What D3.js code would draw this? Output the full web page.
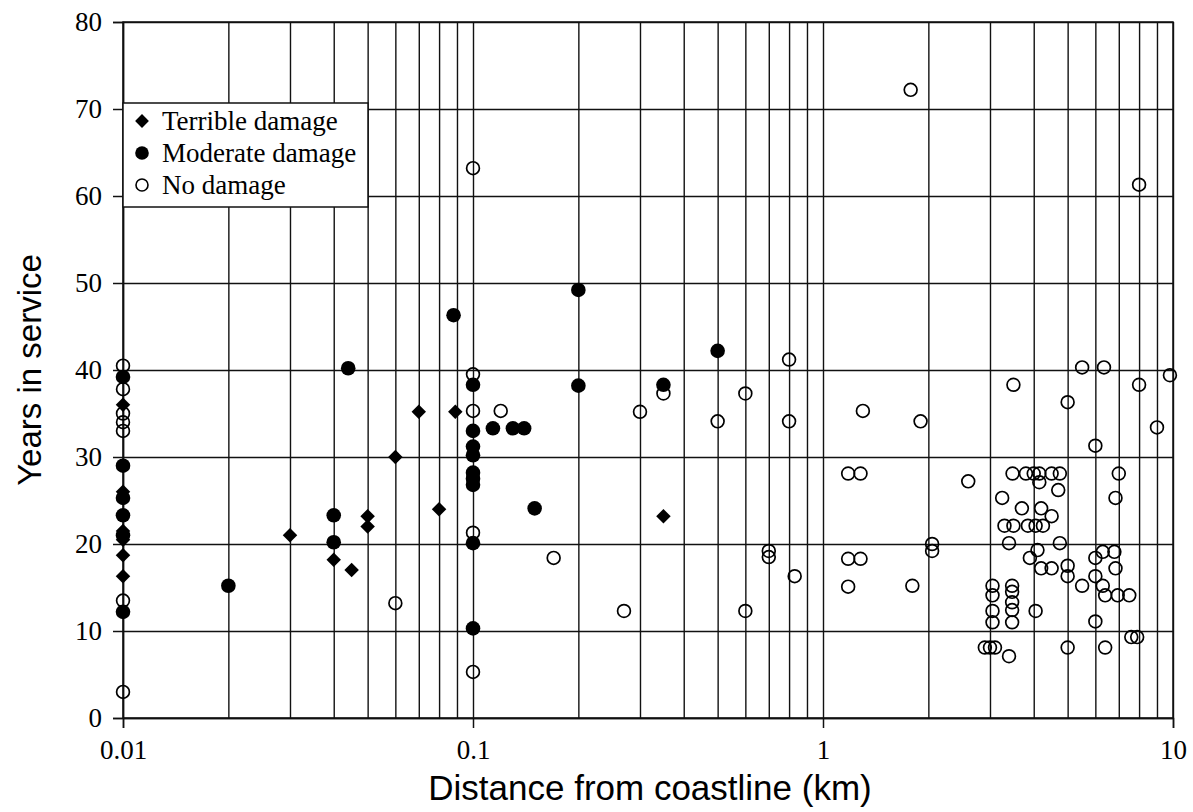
<!DOCTYPE html>
<html>
<head>
<meta charset="utf-8">
<script src="https://cdn.jsdelivr.net/npm/d3@7"></script>
<style>
  body { margin: 0; background: #fff; }
  svg text { fill: #000; }
</style>
</head>
<body>
<div id="chart"></div>
<script>
// --- data: [distance km, years in service]
const terribleDamage = [
  [0.01, 36], [0.01, 26], [0.01, 21.5], [0.01, 20.5], [0.01, 18.7], [0.01, 16.3],
  [0.03, 21], [0.04, 18.2], [0.045, 17], [0.05, 23.2], [0.05, 22], [0.06, 30],
  [0.07, 35.2], [0.08, 24], [0.089, 35.2], [0.35, 23.2]
];
const moderateDamage = [
  [0.01, 39.2], [0.01, 29], [0.01, 25.3], [0.01, 23.3], [0.01, 21], [0.01, 12.2],
  [0.02, 15.2], [0.04, 23.3], [0.04, 20.2], [0.044, 40.2], [0.088, 46.3],
  [0.1, 38.3], [0.1, 33], [0.1, 31.2], [0.1, 30.2], [0.1, 28.2], [0.1, 27.5], [0.1, 26.8],
  [0.1, 20.1], [0.1, 10.3],
  [0.114, 33.3], [0.13, 33.3], [0.14, 33.3], [0.15, 24.1],
  [0.2, 49.2], [0.2, 38.2], [0.35, 38.3], [0.5, 42.2]
];
const noDamage = [
  [0.01, 40.5], [0.01, 37.8], [0.01, 35], [0.01, 34], [0.01, 33], [0.01, 13.5], [0.01, 3],
  [0.06, 13.2], [0.1, 63.2], [0.1, 39.5], [0.1, 35.3], [0.1, 21.3], [0.1, 5.3],
  [0.12, 35.3], [0.17, 18.4], [0.27, 12.3], [0.3, 35.2], [0.35, 37.3],
  [0.5, 34.1], [0.6, 37.3], [0.6, 12.3], [0.7, 19.2], [0.7, 18.5],
  [0.8, 41.2], [0.8, 34.1], [0.83, 16.3],
  [1.18, 28.1], [1.28, 28.1], [1.18, 18.3], [1.28, 18.3], [1.18, 15.1], [1.3, 35.3],
  [1.78, 72.2], [1.8, 15.2], [1.9, 34.1], [2.05, 20], [2.05, 19.2], [2.6, 27.2],
  [2.9, 8.1], [3.0, 8.1], [3.1, 8.1],
  [3.05, 15.2], [3.05, 14.1], [3.05, 12.3], [3.05, 11],
  [3.47, 15.2], [3.47, 14.5], [3.47, 13.3], [3.47, 12.4], [3.47, 11],
  [3.4, 7.1], [3.25, 25.3], [3.3, 22.1], [3.5, 22.1], [3.4, 20.1], [3.5, 38.3], [3.48, 28.1],
  [3.8, 28.1], [4.0, 28.1], [4.15, 28.1], [4.5, 28.1], [4.75, 28.1],
  [4.15, 27.1], [4.7, 26.2], [3.7, 24.1], [4.2, 24.1], [4.5, 23.2],
  [3.85, 22.1], [4.05, 22.1], [4.25, 22.1],
  [4.75, 20.1], [4.1, 19.3], [3.9, 18.4], [4.2, 17.2], [4.5, 17.2], [4.05, 12.3],
  [5, 36.3], [5, 17.5], [5, 16.3], [5, 8.1],
  [5.5, 40.3], [5.5, 15.2],
  [6, 31.3], [6, 18.4], [6, 16.3], [6, 11.1],
  [6.35, 40.3], [6.3, 19.1], [6.3, 15.2], [6.4, 14.1], [6.4, 8.1],
  [6.85, 25.3], [6.8, 19.1], [6.85, 17.2], [6.95, 14.1], [7, 28.1],
  [7.5, 14.1], [7.6, 9.3], [7.9, 9.3],
  [8, 61.3], [8, 38.3], [9, 33.4], [9.8, 39.4]
];
const xTickValues = [0.01, 0.1, 1, 10];
const xTickLabels = ["0.01", "0.1", "1", "10"];
const yTickValues = [0, 10, 20, 30, 40, 50, 60, 70, 80];
const legendLabels = ["Terrible damage", "Moderate damage", "No damage"];

// --- setup
const width = 1193, height = 812;
const margin = {left: 123, right: 20, top: 22, bottom: 94};

const svg = d3.select("#chart").append("svg")
    .attr("width", width)
    .attr("height", height);

const x = d3.scaleLog().domain([0.01, 10]).range([margin.left, width - margin.right]);
const y = d3.scaleLinear().domain([0, 80]).range([height - margin.bottom, margin.top]);

const serif = "'Liberation Serif', 'Times New Roman', serif";
const sans = "'Liberation Sans', Arial, sans-serif";

// grid lines (all log minor ticks + every 10 years)
svg.append("g")
    .attr("transform", `translate(0,${y(0)})`)
    .call(d3.axisBottom(x).tickValues(x.ticks()).tickSize(-(y(0) - y(80))).tickFormat(""))
    .call(g => g.select(".domain").remove())
    .selectAll("line").attr("stroke", "#111").attr("stroke-width", 1.4);

svg.append("g")
    .attr("transform", `translate(${x(0.01)},0)`)
    .call(d3.axisLeft(y).tickValues(yTickValues).tickSize(-(x(10) - x(0.01))).tickFormat(""))
    .call(g => g.select(".domain").remove())
    .selectAll("line").attr("stroke", "#111").attr("stroke-width", 1.4);

// axes
const xAxis = svg.append("g")
    .attr("transform", `translate(0,${y(0)})`)
    .call(d3.axisBottom(x).tickValues(xTickValues).tickSize(10).tickPadding(12)
        .tickFormat((d, i) => xTickLabels[i]));
xAxis.select(".domain").attr("stroke", "#111").attr("stroke-width", 1.5);
xAxis.selectAll("line").attr("stroke", "#111").attr("stroke-width", 1.5);
xAxis.selectAll("text").style("font-family", serif).style("font-size", "27px");

const yAxis = svg.append("g")
    .attr("transform", `translate(${x(0.01)},0)`)
    .call(d3.axisLeft(y).tickValues(yTickValues).tickSize(10).tickPadding(11));
yAxis.select(".domain").attr("stroke", "#111").attr("stroke-width", 1.5);
yAxis.selectAll("line").attr("stroke", "#111").attr("stroke-width", 1.5);
yAxis.selectAll("text").style("font-family", serif).style("font-size", "27px");

// frame top/right
svg.append("rect")
    .attr("x", x(0.01)).attr("y", y(80))
    .attr("width", x(10) - x(0.01)).attr("height", y(0) - y(80))
    .attr("fill", "none").attr("stroke", "#111").attr("stroke-width", 1.5);

// axis titles
svg.append("text")
    .attr("x", 650).attr("y", 800)
    .attr("text-anchor", "middle")
    .style("font-family", sans).style("font-size", "35px")
    .text("Distance from coastline (km)");

svg.append("text")
    .attr("transform", `translate(41,${(y(0) + y(80)) / 2}) rotate(-90)`)
    .attr("text-anchor", "middle")
    .style("font-family", sans).style("font-size", "33px")
    .text("Years in service");

// markers
const diamond = d3.symbol().type(d3.symbolSquare).size(105);

const plot = svg.append("g");

plot.selectAll("circle.none").data(noDamage).join("circle")
    .attr("class", "none")
    .attr("cx", d => x(d[0])).attr("cy", d => y(d[1]))
    .attr("r", 6.4)
    .attr("fill", "none").attr("stroke", "#000").attr("stroke-width", 1.7);

plot.selectAll("circle.moderate").data(moderateDamage).join("circle")
    .attr("class", "moderate")
    .attr("cx", d => x(d[0])).attr("cy", d => y(d[1]))
    .attr("r", 7.3)
    .attr("fill", "#000");

plot.selectAll("path.terrible").data(terribleDamage).join("path")
    .attr("class", "terrible")
    .attr("d", diamond)
    .attr("transform", d => `translate(${x(d[0])},${y(d[1])}) rotate(45)`)
    .attr("fill", "#000");

// legend
const legend = svg.append("g").attr("transform", `translate(${x(0.01)},103)`);
legend.append("rect")
    .attr("width", 245).attr("height", 104)
    .attr("fill", "#fff").attr("stroke", "#111").attr("stroke-width", 1.5);

const rows = legend.selectAll("g.row").data(legendLabels).join("g")
    .attr("class", "row")
    .attr("transform", (d, i) => `translate(19,${18 + i * 32})`);

rows.append("text")
    .attr("x", 20).attr("dy", "0.35em")
    .style("font-family", serif).style("font-size", "27px")
    .text(d => d);

rows.filter((d, i) => i === 0).append("path")
    .attr("d", d3.symbol().type(d3.symbolSquare).size(95))
    .attr("transform", "rotate(45)").attr("fill", "#000");
rows.filter((d, i) => i === 1).append("circle")
    .attr("r", 6.8).attr("fill", "#000");
rows.filter((d, i) => i === 2).append("circle")
    .attr("r", 6).attr("fill", "none").attr("stroke", "#000").attr("stroke-width", 1.6);
</script>
</body>
</html>
